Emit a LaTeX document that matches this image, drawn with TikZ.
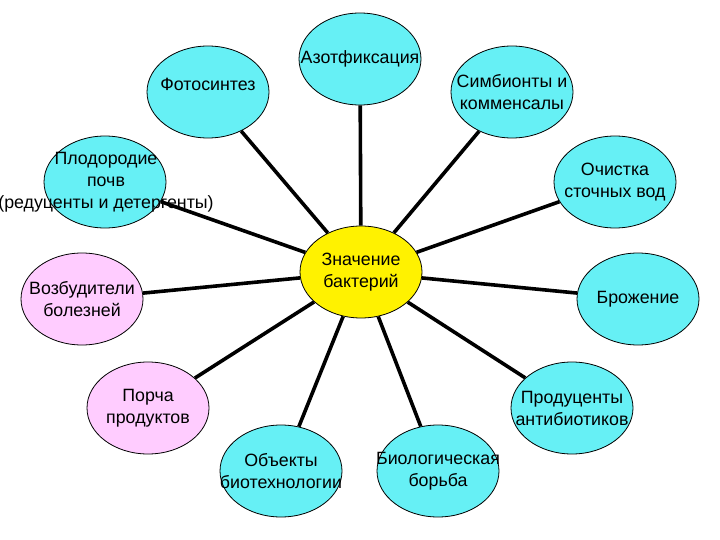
\documentclass[tikz,border=0pt]{standalone}
\usepackage{fontspec}
\setmainfont{Liberation Sans}
\usepackage{tikz}
\usetikzlibrary{shapes.geometric}
\definecolor{aqua}{RGB}{102,240,245}
\definecolor{lilac}{RGB}{255,204,255}
\tikzstyle{bubble}=[draw,ellipse,fill=aqua,line width=0.8pt,minimum width=122pt,minimum height=92pt,inner sep=0pt]
\tikzstyle{txt}=[align=center,inner sep=0pt,font=\fontsize{17.8}{22}\selectfont]
\tikzstyle{link}=[line width=3.6pt]

\begin{document}
\begin{tikzpicture}[x=1pt,y=-1pt]
\useasboundingbox (0,0) rectangle (720,540);
\node [bubble, fill=yellow, label={[txt]center:Значение\\бактерий}] (main) at (361,272) {};
% upper half
\node [bubble, label={[txt,yshift=8pt]center:Фотосинтез}] (photo) at (208,92) {};
\node [bubble, label={[txt]center:Азотфиксация}] (azot) at (360,59) {};
\node [bubble, label={[txt]center:Симбионты и\\комменсалы}] (symb) at (512,92) {};
\node [bubble, label={[txt,xshift=1pt]center:Плодородие\\почв\\(редуценты и детергенты)}] (soil) at (105,182) {};
\node [bubble, label={[txt]center:Очистка\\сточных вод}] (water) at (615,182) {};
\node [bubble, fill=lilac, label={[txt]center:Возбудители\\болезней}] (disease) at (82,299) {};
\node [bubble, label={[txt]center:Брожение}] (ferment) at (638,299) {};
% lower half
\node [bubble, fill=lilac, label={[txt]center:Порча\\продуктов}] (spoil) at (148,408) {};
\node [bubble, label={[txt]center:Продуценты\\антибиотиков}] (antib) at (572,408) {};
\node [bubble, label={[txt]center:Объекты\\биотехнологии}] (biotech) at (281,471) {};
\node [bubble, label={[txt]center:Биологическая\\борьба}] (control) at (438,471) {};
\foreach \n in {photo,azot,symb,soil,water,disease,ferment,spoil,antib,biotech,control}
  \draw [link] (main) -- (\n);
\end{tikzpicture}
\end{document}
